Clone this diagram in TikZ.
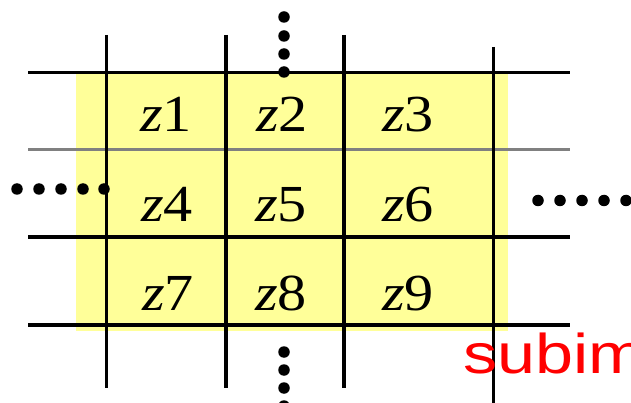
\documentclass[tikz,border=0pt]{standalone}
\usepackage{fontspec}
\setmainfont{Liberation Serif}
\newfontfamily\arialf{Liberation Sans}
\definecolor{cellyellow}{RGB}{255,255,153}
\definecolor{midgray}{RGB}{128,128,128}
\begin{document}
\begin{tikzpicture}[x=1pt,y=-1pt,
  gline/.style={line width=3pt,black},
  thickline/.style={line width=4pt,black},
  dotmark/.style={circle,fill=black,inner sep=0pt,minimum size=11.5pt},
  zlabel/.style={anchor=base,inner sep=0pt,font=\fontsize{52}{52}\selectfont}]
\useasboundingbox (0,0) rectangle (631,403);
\clip (0,0) rectangle (631,403);
% yellow area
\fill[cellyellow] (76,74) rectangle (508,331);
% horizontal lines
\draw[gline] (28,73) -- (570,73);
\draw[line width=3pt,midgray] (28,149.5) -- (570,149.5);
\draw[thickline] (28,237) -- (570,237);
\draw[thickline] (28,325) -- (570,325);
% vertical lines
\draw[gline] (106.5,35) -- (106.5,388);
\draw[thickline] (225.5,35) -- (225.5,388);
\draw[thickline] (344,35) -- (344,388);
\draw[gline] (493,47) -- (493,403);
% labels
\node[zlabel] (z1) at (166,132) {\scalebox{1.12}[1]{\textit{z}1}};
\node[zlabel] (z2) at (282,132) {\scalebox{1.12}[1]{\textit{z}2}};
\node[zlabel] (z3) at (408,132) {\scalebox{1.12}[1]{\textit{z}3}};
\node[zlabel] (z4) at (167,222) {\scalebox{1.12}[1]{\textit{z}4}};
\node[zlabel] (z5) at (281,222) {\scalebox{1.12}[1]{\textit{z}5}};
\node[zlabel] (z6) at (408,222) {\scalebox{1.12}[1]{\textit{z}6}};
\node[zlabel] (z7) at (168,310) {\scalebox{1.12}[1]{\textit{z}7}};
\node[zlabel] (z8) at (281,310) {\scalebox{1.12}[1]{\textit{z}8}};
\node[zlabel] (z9) at (408,310) {\scalebox{1.12}[1]{\textit{z}9}};
% dots
\foreach \y/\n in {17/1,36/2,54/3,72/4} \node[dotmark] (td\n) at (284,\y) {};
\foreach \y/\n in {352/1,370/2,388/3,406/4} \node[dotmark] (bd\n) at (284,\y) {};
\foreach \x/\n in {17/1,39/2,61/3,83/4,104/5} \node[dotmark] (ld\n) at (\x,189) {};
\foreach \x/\n in {538/1,560/2,582/3,604/4,626/5} \node[dotmark] (rd\n) at (\x,200.5) {};
% subim
\node[anchor=base west,inner sep=0pt,text=red,font=\arialf\fontsize{56}{56}\selectfont] (sub) at (463,373) {\scalebox{1.22}[1]{subim}};
\end{tikzpicture}
\end{document}
